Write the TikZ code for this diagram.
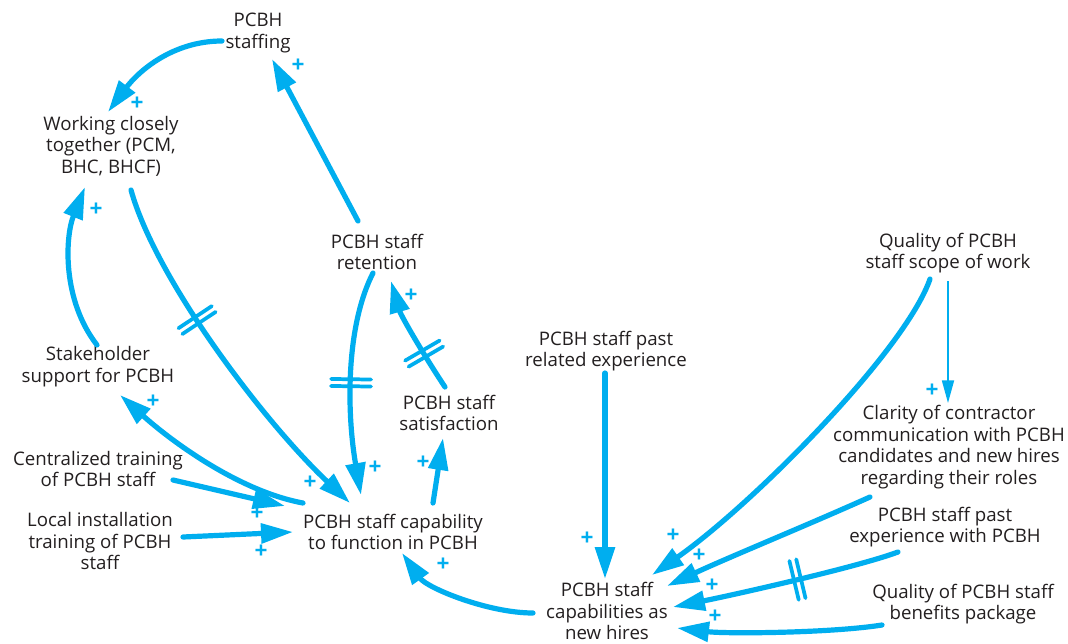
\documentclass[tikz,border=0pt]{standalone}
\usepackage{fontspec}
\setmainfont{Open Sans}
\usetikzlibrary{arrows.meta,calc,decorations.markings}
\definecolor{linkblue}{HTML}{00AEEF}
\definecolor{labelgray}{HTML}{231F20}

\begin{document}
\begin{tikzpicture}[x=0.75pt,y=-0.75pt,
  var/.style={align=center, text=labelgray, font=\fontsize{14}{16.2}\selectfont, inner sep=0pt},
  link/.style={draw=linkblue, line width=3.9pt, line cap=round, -{Triangle[length=24pt,width=14.5pt]}},
  thinlink/.style={draw=linkblue, line width=1.3pt, -{Triangle[length=17pt,width=9pt]}},
  pol/.style={text=linkblue, font=\bfseries\fontsize{17}{17}\selectfont, inner sep=0pt},
  delay/.style={postaction={decorate}, decoration={markings, mark=at position #1 with {\draw[-, draw=linkblue, line width=2.8pt, line cap=round] (-3.5,-20)--(-3.5,20) (3.5,-20)--(3.5,20);}}}
]
\fill[white, use as bounding box] (0,0) rectangle (1068,643);

% variables
\node[var] (staffing)     at (258,33)   {PCBH\\staffing};
\node[var] (working)      at (111,146)  {Working closely\\together (PCM,\\BHC, BHCF)};
\node[var] (retention)    at (377,252)  {PCBH staff\\retention};
\node[var] (stakeholder)  at (98,366.5) {Stakeholder\\support for PCBH};
\node[var] (satisfaction) at (449,413)  {PCBH staff\\satisfaction};
\node[var] (centralized)  at (98,469)   {Centralized training\\of PCBH staff};
\node[var] (local)        at (100,541)  {Local installation\\training of PCBH\\staff};
\node[var] (capability)   at (393,532)  {PCBH staff capability\\to function in PCBH};
\node[var] (pastrel)      at (606,351)  {PCBH staff past\\related experience};
\node[var] (scope)        at (948,253)  {Quality of PCBH\\staff scope of work};
\node[var] (clarity)      at (949,447)  {Clarity of contractor\\communication with PCBH\\candidates and new hires\\regarding their roles};
\node[var] (pastwith)     at (945,527)  {PCBH staff past\\experience with PCBH};
\node[var] (benefits)     at (963,604)  {Quality of PCBH staff\\benefits package};
\node[var] (capnew)       at (607,611)  {PCBH staff\\capabilities as\\new hires};

% causal links
\draw[link] ($(staffing)+(-36,8)$) .. controls +(-50,0) and +(30,-40) .. ($(working)+(-3,-34)$);
\draw[link] ($(retention)+(-19,-31)$) -- ($(staffing)+(14,26)$);
\draw[link, delay=0.38] ($(working)+(20,44)$) .. controls +(25,90) and +(-85,-80) .. ($(capability)+(-43,-29)$);
\draw[link] ($(stakeholder)+(-1,-21.5)$) .. controls +(-35,-45) and +(-20,50) .. ($(working)+(-26,41)$);
\draw[link, delay=0.5] ($(retention)+(-4,21)$) .. controls +(-28,55) and +(-14,-80) .. ($(capability)+(-32,-37)$);
\draw[link, delay=0.33] ($(satisfaction)+(-4,-26)$) .. controls +(-20,-30) and +(10,35) .. ($(retention)+(14,29)$);
\draw[link] ($(capability)+(40,-29)$) -- ($(satisfaction)+(-6,25)$);
\draw[link] ($(capability)+(-90,-29)$) .. controls +(-65,-12) and +(50,45) .. ($(stakeholder)+(22,28.5)$);
\draw[link] ($(centralized)+(75,11)$) -- ($(capability)+(-108,-26)$);
\draw[link] ($(local)+(83,-4)$) -- ($(capability)+(-100,0)$);
\draw[link] ($(capnew)+(-74,2)$) .. controls +(-45,0) and +(25,35) .. ($(capability)+(9,21)$);
\draw[link] ($(pastrel)+(-1,22)$) -- ($(capnew)+(-2,-32)$);
\draw[link] ($(scope)+(-18,26)$) .. controls +(-25,72) and +(100,-70) .. ($(capnew)+(45,-36)$);
\draw[thinlink] ($(scope)+(0,28)$) -- ($(clarity)+(-1,-44)$);
\draw[link] ($(clarity)+(-79,50)$) .. controls +(-60,27) and +(60,-28) .. ($(capnew)+(60,-25)$);
\draw[link, delay=0.45] ($(pastwith)+(-47,25)$) .. controls +(-40,15) and +(60,-12) .. ($(capnew)+(66,-4)$);
\draw[link] ($(benefits)+(-81,21)$) .. controls +(-50,8) and +(50,6) .. ($(capnew)+(70,17)$);

% polarity signs
\node[pol] (p1)  at (137,104) {+};
\node[pol] (p2)  at (298,66)  {+};
\node[pol] (p3)  at (310,483) {+};
\node[pol] (p4)  at (96,210)  {+};
\node[pol] (p5)  at (375,468) {+};
\node[pol] (p6)  at (411,296) {+};
\node[pol] (p7)  at (423,463) {+};
\node[pol] (p8)  at (153,402) {+};
\node[pol] (p9)  at (257,514) {+};
\node[pol] (p10) at (261,552) {+};
\node[pol] (p11) at (443,565) {+};
\node[pol] (p12) at (587,539) {+};
\node[pol] (p13) at (673,536) {+};
\node[pol] (p14) at (932,391) {+};
\node[pol] (p15) at (699,556) {+};
\node[pol] (p16) at (712,586) {+};
\node[pol] (p17) at (715,617) {+};
\end{tikzpicture}
\end{document}
